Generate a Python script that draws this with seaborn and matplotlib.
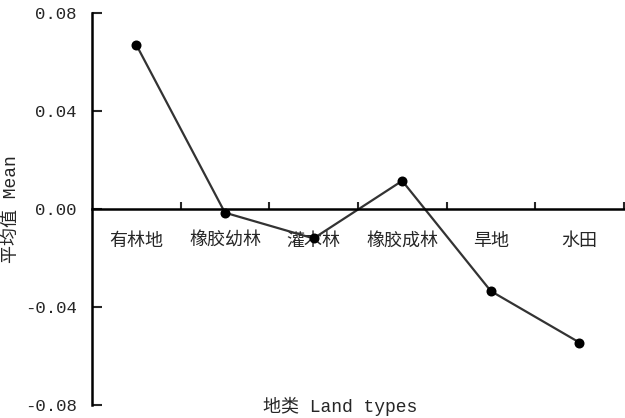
import matplotlib
matplotlib.use("Agg")
import matplotlib.pyplot as plt
from matplotlib.ticker import FixedLocator
import seaborn as sns
import pandas as pd

# Land-type categories and their mean values
land_types = ["有林地", "橡胶幼林", "灌木林", "橡胶成林", "旱地", "水田"]
mean_values = [0.067, -0.0015, -0.012, 0.0115, -0.0335, -0.0545]
y_ticks = [-0.08, -0.04, 0.00, 0.04, 0.08]
y_tick_labels = ["-0.08", "-0.04", "0.00", "0.04", "0.08"]

sns.set_style("white")
plt.rcParams["font.family"] = ["Liberation Mono", "Noto Sans CJK SC", "DejaVu Sans"]

df = pd.DataFrame({"land": land_types, "mean": mean_values})

fig = plt.figure(figsize=(6.25, 4.18), dpi=100)
ax = fig.add_axes([0.1472, 0.0311, 0.8508, 0.9378])

sns.pointplot(data=df, x="land", y="mean", order=land_types, color="#333333",
              markers="o", markersize=6, linewidth=1.6, errorbar=None, ax=ax)
for ln in ax.lines:
    ln.set_markerfacecolor("black")
    ln.set_markeredgecolor("black")

ax.set_xlim(-0.5, len(land_types) - 0.5)
ax.set_ylim(-0.08, 0.08)

# spines: left axis plus a horizontal axis through zero
for s in ["top", "right"]:
    ax.spines[s].set_visible(False)
ax.spines["left"].set_linewidth(1.8)
ax.spines["left"].set_color("black")
ax.spines["bottom"].set_position(("data", 0))
ax.spines["bottom"].set_linewidth(1.8)
ax.spines["bottom"].set_color("black")

ax.set_yticks(y_ticks)
ax.set_yticklabels(y_tick_labels, fontsize=12.5, fontweight="medium")
ax.tick_params(axis="y", direction="in", length=7, width=1.5, pad=11, left=True)

# category labels at centres, tick marks at category boundaries
ax.set_xticks(range(len(land_types)))
ax.set_xticklabels(land_types, fontsize=13, fontweight="medium")
ax.xaxis.set_minor_locator(FixedLocator([i + 0.5 for i in range(len(land_types))]))
ax.tick_params(axis="x", which="major", length=0, pad=17, bottom=True)
ax.tick_params(axis="x", which="minor", direction="in", length=5, width=1.5, bottom=True)

ax.set_xlabel("地类 Land types", fontsize=13, fontweight="medium")
ax.xaxis.label.set_va("center")
ax.xaxis.set_label_coords(0.466, -0.003)
ax.set_ylabel("平均值 Mean", fontsize=13, fontweight="medium")
ax.yaxis.label.set_va("center")
ax.yaxis.set_label_coords(-0.152, 0.5)

fig.savefig("out.png", dpi=100)
